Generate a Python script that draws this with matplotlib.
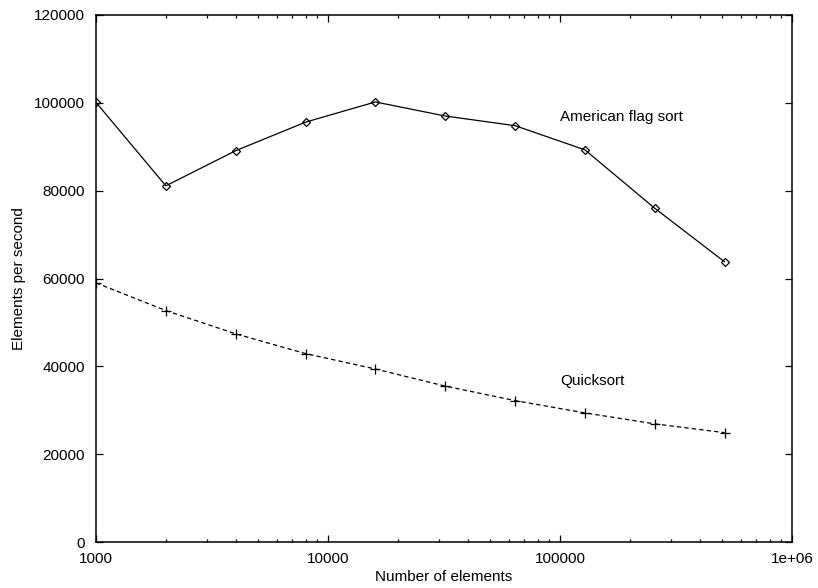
import matplotlib.pyplot as plt
from matplotlib.ticker import FixedLocator, LogLocator, NullFormatter

plt.rcParams['font.family'] = ['Liberation Sans', 'DejaVu Sans']

# number of elements sorted (doubling each run)
sizes = [1000, 2000, 4000, 8000, 16000, 32000, 64000, 128000, 256000, 512000]

# throughput in elements per second
flag_sort = [100100, 81100, 89100, 95600, 100200, 97000, 94800, 89300, 76000, 63800]
quick_sort = [59000, 52700, 47400, 42900, 39400, 35500, 32200, 29400, 26900, 24900]

xticks = [1000, 10000, 100000, 1000000]
xtick_labels = ['1000', '10000', '100000', '1e+06']
yticks = [0, 20000, 40000, 60000, 80000, 100000, 120000]

fig = plt.figure(figsize=(8.18, 5.88), dpi=100)
ax = fig.add_axes([96/818, 1 - 542/588, (792-96)/818, (542-15)/588])

ax.plot(sizes, flag_sort, color='black', linewidth=0.9,
        marker='D', markersize=4.5, markerfacecolor='none', markeredgewidth=0.9)
ax.plot(sizes, quick_sort, color='black', linewidth=0.9, linestyle=(0, (3.5, 2.5)),
        marker='+', markersize=6.5, markeredgewidth=0.9)

ax.text(100000, 96800, 'American flag sort', fontsize=11, ha='left', va='center')
ax.text(100000, 36700, 'Quicksort', fontsize=11, ha='left', va='center')

ax.set_xscale('log')
ax.set_xlim(1000, 1000000)
ax.set_ylim(0, 120000)
ax.xaxis.set_major_locator(FixedLocator(xticks))
ax.set_xticklabels(xtick_labels)
ax.xaxis.set_minor_locator(LogLocator(base=10, subs=range(2, 10)))
ax.xaxis.set_minor_formatter(NullFormatter())
ax.set_yticks(yticks)
ax.set_yticklabels([str(v) for v in yticks])

ax.tick_params(which='both', direction='in', top=True, right=True,
               labelsize=11, width=0.9)
ax.tick_params(axis='x', which='major', length=5, pad=7)
ax.tick_params(axis='x', which='minor', length=2.5)
ax.tick_params(axis='y', which='major', length=5, pad=8)
for s in ax.spines.values():
    s.set_linewidth(1.1)

ax.set_xlabel('Number of elements', fontsize=11, labelpad=3)
ax.set_ylabel('Elements per second', fontsize=11, labelpad=6)

fig.savefig('out.png', dpi=100)
